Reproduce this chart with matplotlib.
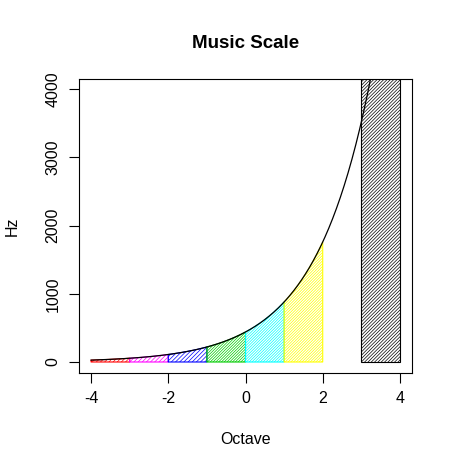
import numpy as np
import matplotlib
matplotlib.use("Agg")
import matplotlib.pyplot as plt

plt.rcParams["font.family"] = ["Liberation Sans", "DejaVu Sans"]
plt.rcParams["hatch.linewidth"] = 0.5
plt.rcParams["axes.unicode_minus"] = False

# octave bands under the curve
base_hz = 440
octave_starts = [-4, -3, -2, -1, 0, 1]
band_colors = ["#FF0000", "#FF00FF", "#0000FF", "#00CC00", "#00FFFF", "#FFFF00"]
band_hatches = ["/" * 8, "/" * 8, "/" * 8, "/" * 12, "/" * 12, "/" * 12]
# the black bar at the top octave
bar_start, bar_end = 3, 4

xticks = [-4, -2, 0, 2, 4]
yticks = [0, 1000, 2000, 3000, 4000]

fig = plt.figure(figsize=(4.53, 4.71), dpi=100)
ax = fig.add_axes([78.7 / 453, (471 - 372.7) / 471, (412.3 - 78.7) / 453, (372.7 - 79) / 471])

x = np.linspace(-4, 4, 400)
ax.plot(x, base_hz * 2.0 ** x, color="black", lw=0.9, zorder=3)

for start, col, h in zip(octave_starts, band_colors, band_hatches):
    xs = np.linspace(start, start + 1, 60)
    ax.fill_between(xs, 0, base_hz * 2.0 ** xs, facecolor="none",
                    edgecolor=col, hatch=h, lw=0.8)

top = base_hz * 2.0 ** bar_end
ax.fill([bar_start, bar_end, bar_end, bar_start], [0, 0, top, top],
        facecolor="none", edgecolor="black", hatch="/" * 10, lw=0.8)

ax.set_xlim(-4.32, 4.32)
ax.set_ylim(-157, 4150)
ax.set_xticks(xticks)
ax.set_yticks(yticks)
ax.set_yticklabels([str(v) for v in yticks], rotation=90, va="center")
ax.tick_params(direction="out", length=7, width=0.8, labelsize=11.5, pad=6, colors="black")
for s in ax.spines.values():
    s.set_linewidth(0.8)

ax.set_title("Music Scale", fontsize=13.5, fontweight="bold", pad=22)
ax.set_xlabel("Octave", fontsize=11.5, labelpad=19)
ax.set_ylabel("Hz", fontsize=11.5, labelpad=19)

fig.savefig("out.png", dpi=100)
